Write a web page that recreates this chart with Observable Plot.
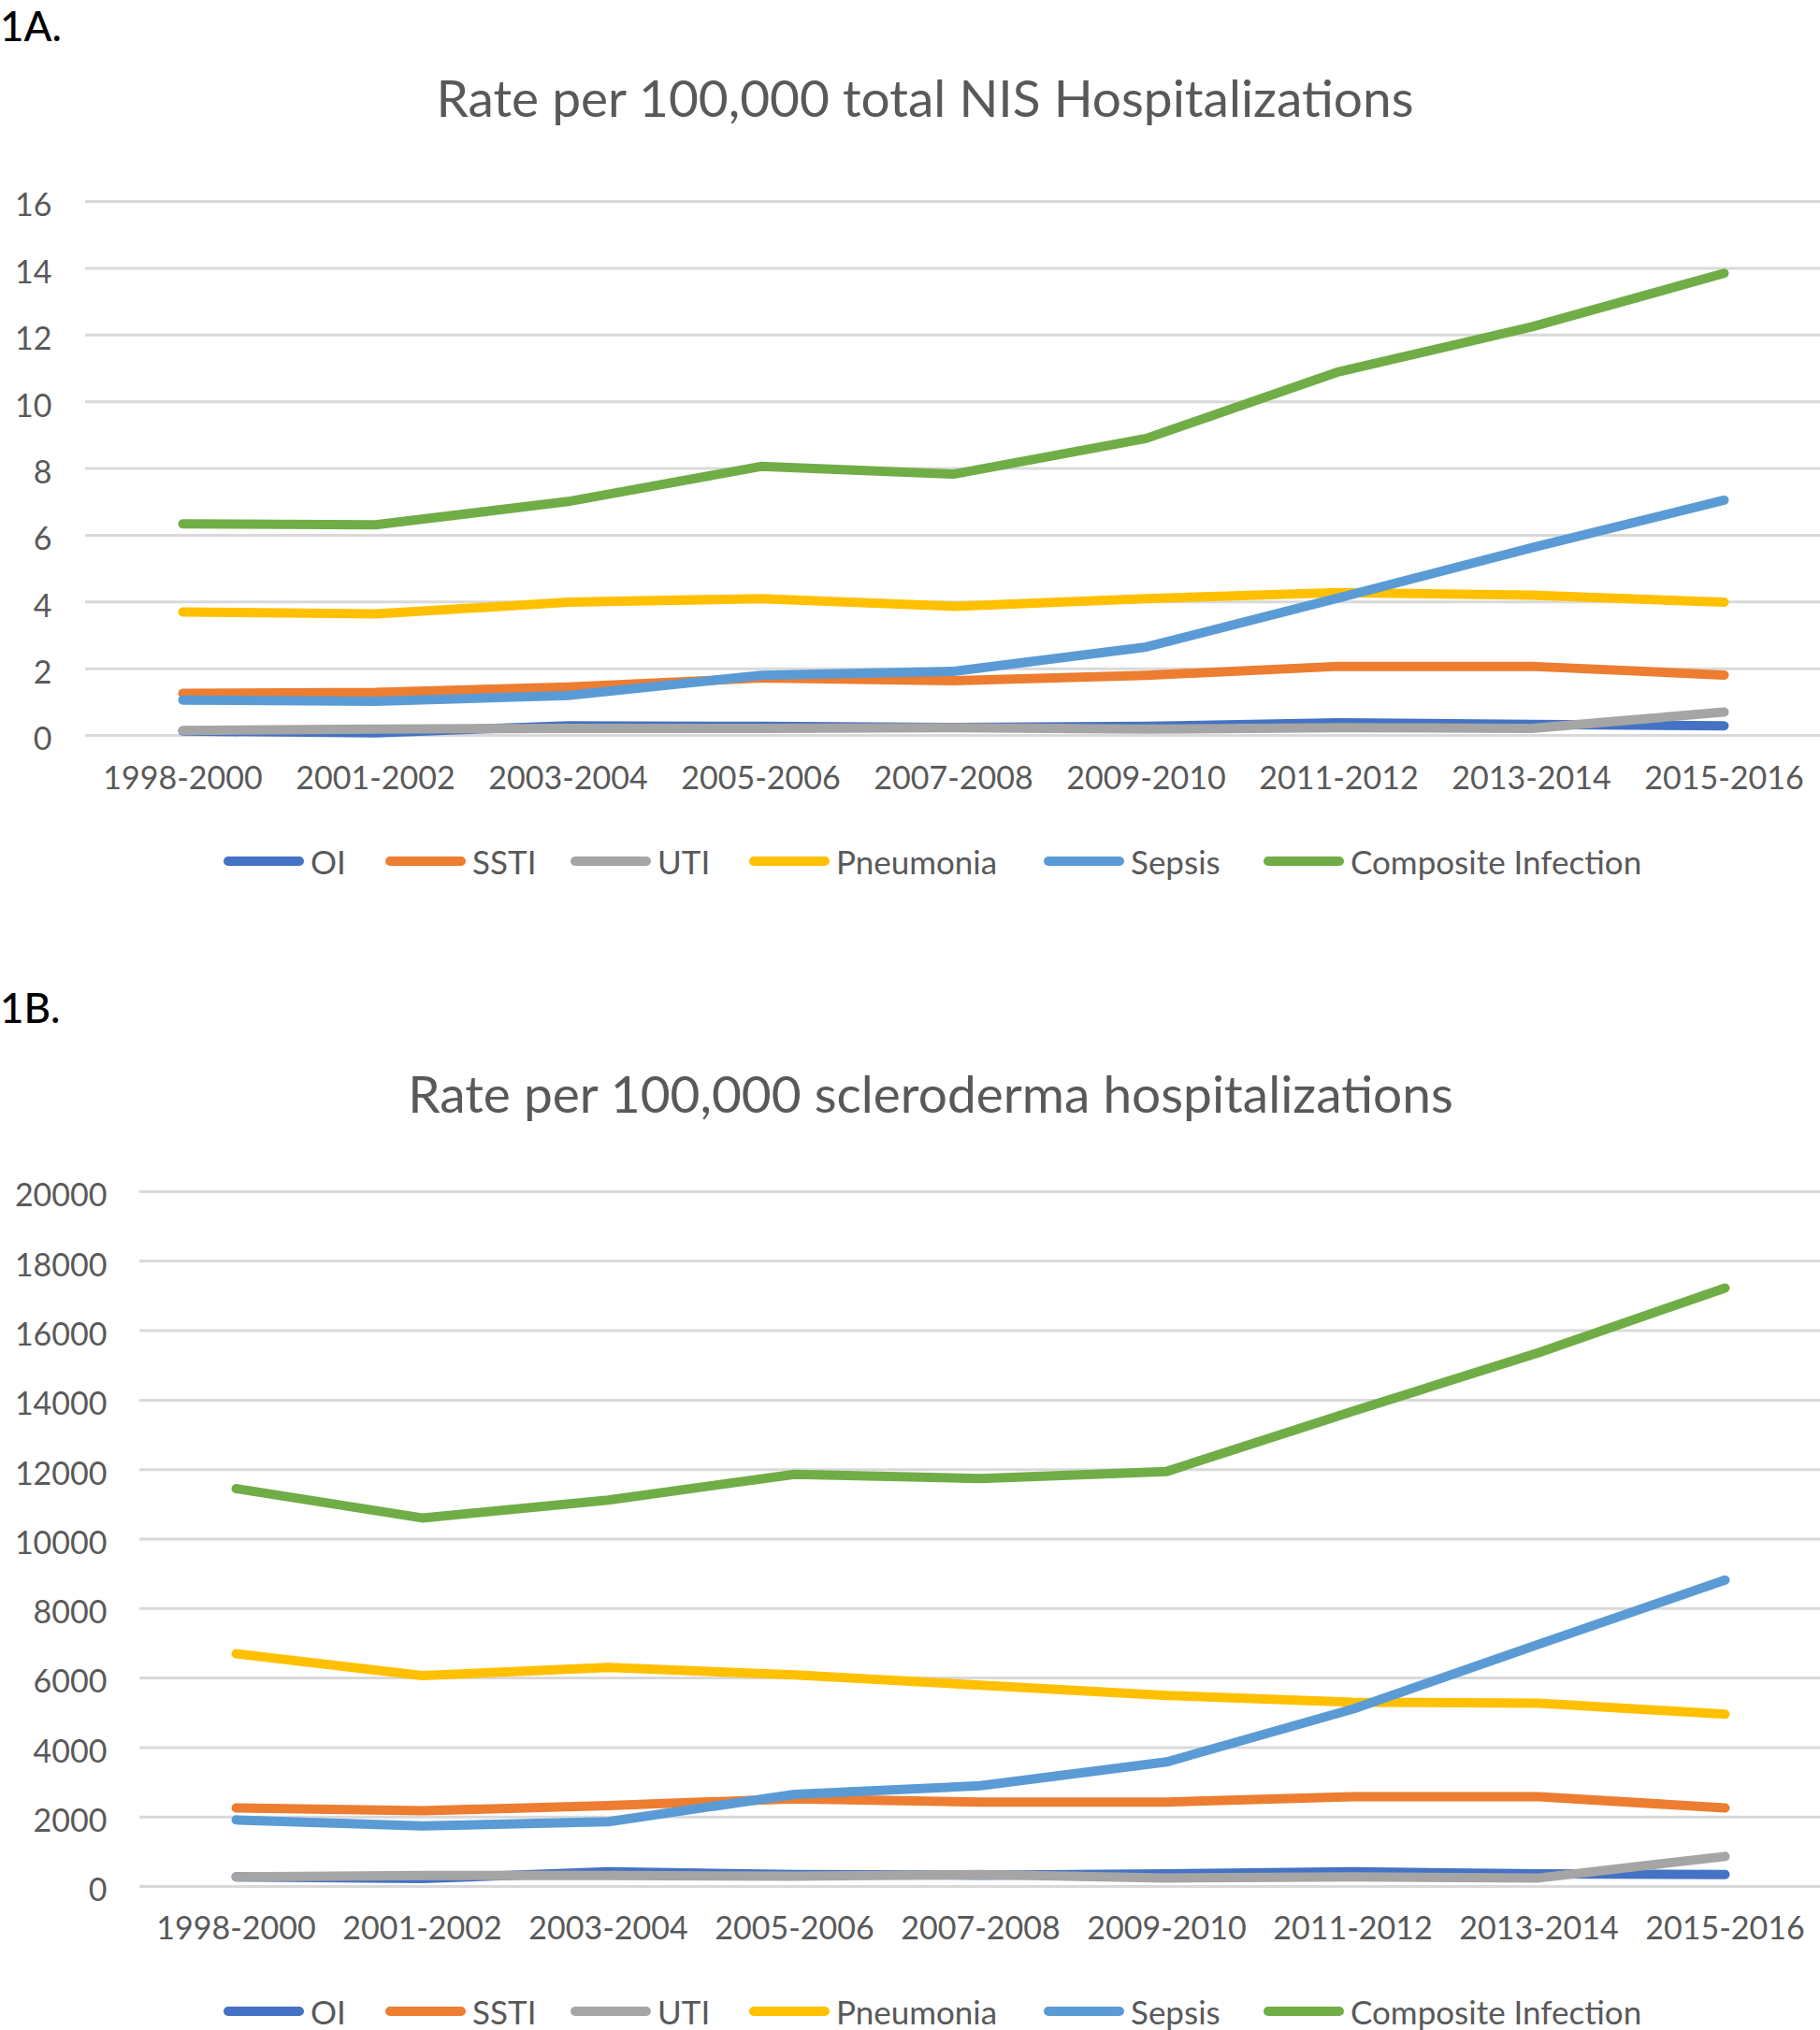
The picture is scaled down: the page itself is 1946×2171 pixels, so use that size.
<!DOCTYPE html>
<html>
<head>
<meta charset="utf-8">
<script src="https://cdn.jsdelivr.net/npm/d3@7"></script>
<script src="https://cdn.jsdelivr.net/npm/@observablehq/plot@0.6"></script>
<style>
  html, body { margin: 0; padding: 0; background: #fff; }
  #page { position: relative; width: 1946px; height: 2171px; overflow: hidden; background: #fff; font-family: Lato, "Open Sans", sans-serif; }
  .panel { position: absolute; left: 0; font-weight: 500; color: #000; font-size: 44px; line-height: 1.25; }
  .title { position: absolute; left: 20px; width: 1946px; text-align: center; color: #595959; font-size: 55px; line-height: 1; }
  .chart { position: absolute; left: 0; }
  .leg { position: absolute; display: flex; align-items: center; height: 50px; color: #595959; font-size: 35px; line-height: 1; white-space: nowrap; }
  .leg svg { margin-right: 6px; }
</style>
</head>
<body>
<div id="page"></div>
<script>
// ---------- data ----------
const categories = ["1998-2000","2001-2002","2003-2004","2005-2006","2007-2008","2009-2010","2011-2012","2013-2014","2015-2016"];
const seriesNames = ["OI","SSTI","UTI","Pneumonia","Sepsis","Composite Infection"];

// Panel 1A: rate per 100,000 total NIS hospitalizations
const oiA        = [0.13, 0.08, 0.29, 0.27, 0.24, 0.27, 0.38, 0.33, 0.29];
const sstiA      = [1.26, 1.29, 1.45, 1.72, 1.64, 1.80, 2.07, 2.07, 1.81];
const utiA       = [0.15, 0.19, 0.21, 0.21, 0.23, 0.19, 0.23, 0.21, 0.70];
const pneumoniaA = [3.70, 3.64, 3.99, 4.10, 3.87, 4.10, 4.28, 4.20, 3.99];
const sepsisA    = [1.06, 1.02, 1.20, 1.80, 1.92, 2.65, 4.12, 5.62, 7.05];
const compositeA = [6.34, 6.31, 7.01, 8.06, 7.83, 8.90, 10.90, 12.24, 13.85];
const yTicksA    = [0, 2, 4, 6, 8, 10, 12, 14, 16];

// Panel 1B: rate per 100,000 scleroderma hospitalizations
const oiB        = [275, 226, 422, 344, 324, 363, 422, 363, 344];
const sstiB      = [2260, 2180, 2330, 2525, 2430, 2430, 2585, 2585, 2260];
const utiB       = [275, 315, 315, 295, 344, 245, 275, 245, 865];
const pneumoniaB = [6700, 6070, 6306, 6090, 5795, 5500, 5305, 5275, 4960];
const sepsisB    = [1915, 1740, 1866, 2650, 2900, 3585, 5108, 6975, 8820];
const compositeB = [11454, 10608, 11124, 11866, 11742, 11948, 13680, 15370, 17230];
const yTicksB    = [0, 2000, 4000, 6000, 8000, 10000, 12000, 14000, 16000, 18000, 20000];

const titleA = "Rate per 100,000 total NIS Hospitalizations";
const titleB = "Rate per 100,000 scleroderma hospitalizations";

// ---------- styles ----------
const colors = ["#4472C4", "#ED7D31", "#A5A5A5", "#FFC000", "#5B9BD5", "#70AD47"];
const legendX = [238, 411, 609, 800, 1115, 1350];
const lineWidth = 10;

const page = document.getElementById("page");

function addText(cls, text, top, left) {
  const d = document.createElement("div");
  d.className = cls;
  d.textContent = text;
  d.style.top = top + "px";
  if (left != null) d.style.left = left + "px";
  page.appendChild(d);
}

function makeChart(values, yTicks, cfg) {
  const data = [];
  seriesNames.forEach((s, i) => values[i].forEach((v, j) => data.push({series: s, cat: categories[j], value: v})));
  const chart = Plot.plot({
    width: 1946,
    height: cfg.height,
    marginLeft: cfg.marginLeft,
    marginRight: 0,
    marginTop: cfg.marginTop,
    marginBottom: cfg.marginBottom,
    x: {type: "point", domain: categories, padding: 0.5, label: null},
    y: {domain: [yTicks[0], yTicks[yTicks.length - 1]], label: null},
    style: {fontFamily: "Lato, 'Open Sans', sans-serif", fontSize: "34px", color: "#595959", background: "white", overflow: "visible"},
    marks: [
      Plot.ruleY(yTicks, {stroke: "#D9D9D9", strokeWidth: 3}),
      Plot.axisY(yTicks, {tickSize: 0, tickPadding: cfg.yPad, fontSize: 34, dy: 5, tickFormat: d => String(d), label: null}),
      Plot.axisX({tickSize: 0, tickPadding: cfg.xPad, fontSize: 34, label: null}),
      ...seriesNames.map((s, i) => Plot.lineY(data.filter(d => d.series === s), {
        x: "cat", y: "value", stroke: colors[i], strokeWidth: lineWidth,
        strokeLinecap: "round", strokeLinejoin: "round"
      }))
    ]
  });
  chart.classList.add("chart");
  chart.style.top = cfg.top + "px";
  page.appendChild(chart);
}

function makeLegend(centerY) {
  seriesNames.forEach((s, i) => {
    const item = document.createElement("div");
    item.className = "leg";
    item.style.left = legendX[i] + "px";
    item.style.top = (centerY - 25) + "px";
    const ns = "http://www.w3.org/2000/svg";
    const svg = document.createElementNS(ns, "svg");
    svg.setAttribute("width", 88);
    svg.setAttribute("height", 14);
    const ln = document.createElementNS(ns, "line");
    ln.setAttribute("x1", 6); ln.setAttribute("x2", 82);
    ln.setAttribute("y1", 7); ln.setAttribute("y2", 7);
    ln.setAttribute("stroke", colors[i]);
    ln.setAttribute("stroke-width", lineWidth);
    ln.setAttribute("stroke-linecap", "round");
    svg.appendChild(ln);
    item.appendChild(svg);
    const t = document.createElement("span");
    t.textContent = s;
    item.appendChild(t);
    page.appendChild(item);
  });
}

// ---------- Panel A ----------
addText("panel", "1A.", 0, 0);
addText("title", titleA, 77, 16);
makeChart([oiA, sstiA, utiA, pneumoniaA, sepsisA, compositeA], yTicksA,
  {top: 180, height: 680, marginLeft: 91, marginTop: 35, marginBottom: 74, yPad: 36, xPad: 33});
makeLegend(921);

// ---------- Panel B ----------
addText("panel", "1B.", 1050, 0);
addText("title", titleB, 1142, 22);
makeChart([oiB, sstiB, utiB, pneumoniaB, sepsisB, compositeB], yTicksB,
  {top: 1230, height: 870, marginLeft: 149, marginTop: 44, marginBottom: 83, yPad: 35, xPad: 32});
makeLegend(2151);
</script>
</body>
</html>
